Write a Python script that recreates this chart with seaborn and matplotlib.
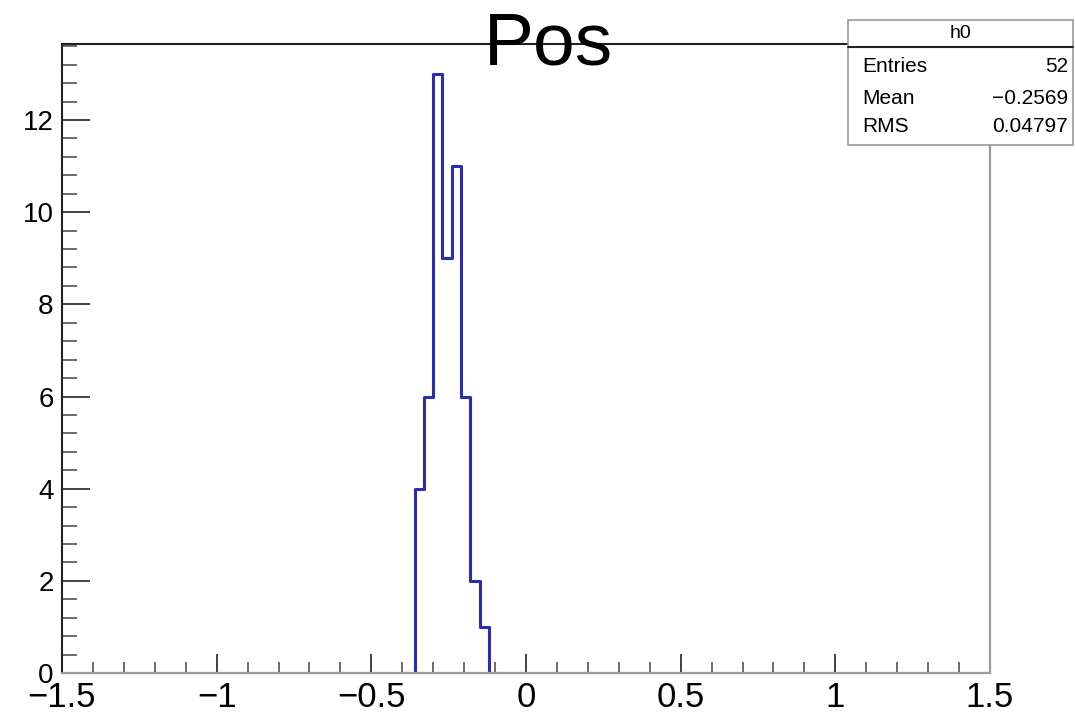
import numpy as np
import matplotlib
matplotlib.use("Agg")
import matplotlib.pyplot as plt
import seaborn as sns
from matplotlib.patches import Rectangle
from matplotlib.ticker import MultipleLocator, FuncFormatter

# histogram contents (bin width 0.03, range -1.5..1.5, 100 bins);
# empty neighbour bins on each side so the outline drops back to zero
bin_centers = [-0.375, -0.345, -0.315, -0.285, -0.255, -0.225, -0.195, -0.165, -0.135, -0.105]
counts = [0, 4, 6, 13, 9, 11, 6, 2, 1, 0]
hist_name = "h0"
title = "Pos"
stats_labels = ["Entries", "Mean", "RMS"]
stats_values = ["52", "\u22120.2569", "0.04797"]

sns.set_style("ticks")
plt.rcParams["font.family"] = ["Liberation Sans", "DejaVu Sans"]
plt.rcParams["text.color"] = "black"
plt.rcParams["xtick.labelcolor"] = "black"
plt.rcParams["ytick.labelcolor"] = "black"

fig = plt.figure(figsize=(10.75, 7.17), dpi=100)
ax = fig.add_axes([62 / 1075, 44 / 717, (990 - 62) / 1075, (673 - 44) / 717])

edges = [round(e, 4) for e in np.arange(-0.39, -0.09 + 1e-9, 0.03)]
sns.histplot(x=bin_centers, weights=counts, bins=edges, element="step",
             fill=False, color="#2b2bb5", linewidth=2.2, ax=ax)

ax.set_xlim(-1.5, 1.5)
ax.set_ylim(0, 13.65)
ax.set_xlabel("")
ax.set_ylabel("")

ax.xaxis.set_major_locator(MultipleLocator(0.5))
ax.xaxis.set_minor_locator(MultipleLocator(0.1))
ax.yaxis.set_major_locator(MultipleLocator(2))
ax.yaxis.set_minor_locator(MultipleLocator(0.4))
fmt = FuncFormatter(lambda v, p: ("%g" % v).replace("-", "\u2212"))
ax.xaxis.set_major_formatter(fmt)
ax.yaxis.set_major_formatter(fmt)

ax.tick_params(axis="x", which="major", direction="in", length=14, width=1.3,
               color="#333333", labelsize=25, pad=6)
ax.tick_params(axis="x", which="minor", direction="in", length=8, width=1.1,
               color="#444444")
ax.tick_params(axis="y", which="major", direction="in", length=20, width=1.3,
               color="#333333", labelsize=20, pad=6)
ax.tick_params(axis="y", which="minor", direction="in", length=11, width=1.1,
               color="#444444")

for side in ["left", "top"]:
    ax.spines[side].set_visible(True)
    ax.spines[side].set_color("#222222")
    ax.spines[side].set_linewidth(1.5)
for side in ["bottom", "right"]:
    ax.spines[side].set_visible(True)
    ax.spines[side].set_color("#9a9a9a")
    ax.spines[side].set_linewidth(1.6)
    ax.spines[side].set_zorder(5)

fig.text(548 / 1075, 1 - 45 / 717, title, fontsize=54, ha="center", va="center")

# stats box, ROOT style
box_l, box_r, box_t, box_b = 848, 1073, 20, 145
fig.patches.append(Rectangle((box_l / 1075, 1 - box_b / 717), (box_r - box_l) / 1075,
                             (box_b - box_t) / 717, transform=fig.transFigure,
                             facecolor="white", edgecolor="#999999", linewidth=1.2,
                             zorder=5))
fig.add_artist(plt.Line2D([box_l / 1075, box_r / 1075], [1 - 47 / 717, 1 - 47 / 717],
                          transform=fig.transFigure, color="#222222", linewidth=1.5,
                          zorder=6))
fig.text((box_l + box_r) / 2 / 1075, 1 - 33 / 717, hist_name, fontsize=14,
         ha="center", va="center", zorder=7)
row_y = [67, 98, 127]
for lab, val, y in zip(stats_labels, stats_values, row_y):
    fig.text(862 / 1075, 1 - y / 717, lab, fontsize=15, ha="left", va="center", zorder=7)
    fig.text(1068 / 1075, 1 - y / 717, val, fontsize=15, ha="right", va="center", zorder=7)

fig.savefig("out.png", dpi=100)
